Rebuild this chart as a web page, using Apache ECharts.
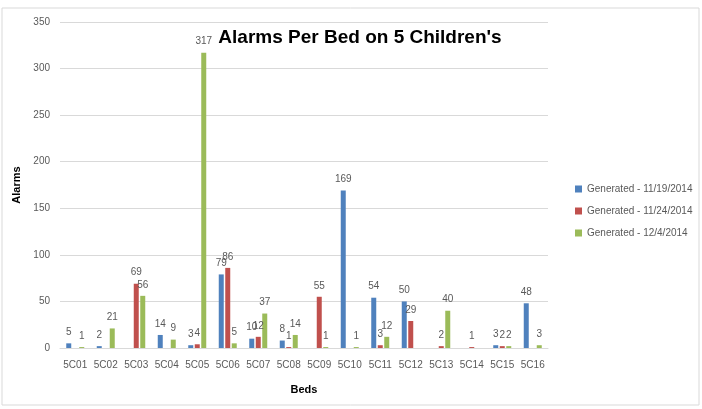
<!DOCTYPE html>
<html>
<head>
<meta charset="utf-8">
<script src="https://cdn.jsdelivr.net/npm/echarts@6/dist/echarts.min.js"></script>
<style>
  html, body { margin: 0; padding: 0; background: #fff; }
  #chart { width: 702px; height: 409px; }
</style>
</head>
<body>
<div id="chart"></div>
<script>
const beds = ['5C01', '5C02', '5C03', '5C04', '5C05', '5C06', '5C07', '5C08',
  '5C09', '5C10', '5C11', '5C12', '5C13', '5C14', '5C15', '5C16']
const gen1119 = [5, 2, null, 14, 3, 79, 10, 8, null, 169, 54, 50, null, null, 3, 48]
const gen1124 = [null, null, 69, null, 4, 86, 12, 1, 55, null, 3, 29, 2, 1, 2, null]
const gen1204 = [1, 21, 56, 9, 317, 5, 37, 14, 1, 1, 12, null, 40, null, 2, 3]
const yTicks = [0, 50, 100, 150, 200, 250, 300, 350]

const font = 'Liberation Sans, sans-serif'
const labelStyle = {
  show: true,
  position: 'top',
  distance: 6,
  color: '#595959',
  fontSize: 10,
  fontFamily: font,
}

const makeSeries = (name, data, color) => ({
  name,
  type: 'bar',
  data,
  barWidth: 5,
  barGap: '30%',
  itemStyle: { color },
  label: labelStyle,
})

const myChart = echarts.init(document.getElementById('chart'))
myChart.setOption({
  animation: false,
  title: {
    text: "Alarms Per Bed on 5 Children's",
    left: 355,
    textAlign: 'center',
    top: 23,
    textStyle: {
      fontFamily: font,
      fontWeight: 'bold',
      fontSize: 19,
      color: '#000',
    },
  },
  graphic: [{
    type: 'rect',
    shape: { x: 2, y: 8, width: 697, height: 397 },
    style: { fill: 'none', stroke: '#d9d9d9', lineWidth: 1 },
    z: -1,
  }],
  legend: {
    orient: 'vertical',
    left: 570,
    top: 179,
    itemWidth: 7,
    itemHeight: 7,
    itemGap: 12,
    icon: 'rect',
    textStyle: { color: '#595959', fontSize: 10, fontFamily: font },
    data: ['Generated - 11/19/2014', 'Generated - 11/24/2014', 'Generated - 12/4/2014'],
  },
  grid: { left: 60, right: 154, top: 22, bottom: 61 },
  xAxis: {
    type: 'category',
    data: beds,
    name: 'Beds',
    nameLocation: 'middle',
    nameGap: 36,
    nameTextStyle: { fontFamily: font, fontWeight: 'bold', fontSize: 11, color: '#000' },
    axisLine: { lineStyle: { color: '#d9d9d9' } },
    axisTick: { show: false },
    axisLabel: { color: '#595959', fontSize: 10, fontFamily: font, margin: 12, interval: 0 },
  },
  yAxis: {
    type: 'value',
    min: yTicks[0],
    max: yTicks[yTicks.length - 1],
    interval: 50,
    name: 'Alarms',
    nameLocation: 'middle',
    nameGap: 34,
    nameTextStyle: { fontFamily: font, fontWeight: 'bold', fontSize: 11, color: '#000' },
    axisLine: { show: false },
    axisTick: { show: false },
    axisLabel: { color: '#595959', fontSize: 10, fontFamily: font, margin: 10 },
    splitLine: { lineStyle: { color: '#d9d9d9' } },
  },
  series: [
    makeSeries('Generated - 11/19/2014', gen1119, '#4f81bd'),
    makeSeries('Generated - 11/24/2014', gen1124, '#c0504d'),
    makeSeries('Generated - 12/4/2014', gen1204, '#9bbb59'),
  ],
})
</script>
</body>
</html>
